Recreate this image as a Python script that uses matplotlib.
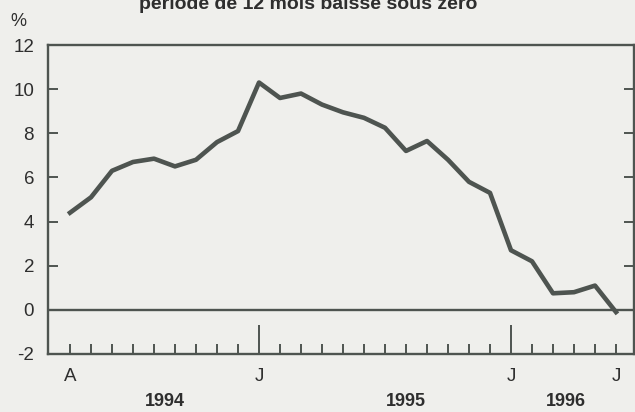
import numpy as np
import matplotlib.pyplot as plt

# données : glissement sur 12 mois, avril 1994 - juin 1996
month_labels = ["A", "", "", "", "", "", "", "", "",
                "J", "", "", "", "", "", "", "", "", "", "", "",
                "J", "", "", "", "", "J"]
values = [4.4, 5.1, 6.3, 6.7, 6.85, 6.5, 6.8, 7.6, 8.1,
          10.3, 9.6, 9.8, 9.3, 8.95, 8.7, 8.25, 7.2, 7.65, 6.8, 5.8, 5.3,
          2.7, 2.2, 0.75, 0.8, 1.1, -0.1]
january_idx = [9, 21]
years = ["1994", "1995", "1996"]
year_pos = [4.5, 16, 23.6]
yticks = [-2, 0, 2, 4, 6, 8, 10, 12]
title = "période de 12 mois baisse sous zéro"

bg = '#efefec'
ink = '#4e5450'
txt = '#2e2e2e'
plt.rcParams['font.family'] = ['Liberation Sans', 'DejaVu Sans']

fig = plt.figure(figsize=(6.35, 4.12), dpi=100, facecolor=bg)
ax = fig.add_axes([48/635, 58/412, 586/635, 309/412], facecolor=bg)

x = np.arange(len(values))
ax.plot(x, values, color=ink, lw=3.3, solid_joinstyle='round', zorder=3)
ax.axhline(0, color=ink, lw=1.7, zorder=2)

ax.set_xlim(-22/21, 26 + 18/21)
ax.set_ylim(-2, 12)
ax.set_yticks(yticks)
ax.set_yticklabels([str(v) for v in yticks])
ax.tick_params(axis='y', direction='in', length=7, width=1.4, color=ink,
               left=True, right=True, labelsize=13.5, pad=10, labelcolor=txt)

ax.set_xticks(x)
ax.set_xticklabels(month_labels)
ax.tick_params(axis='x', direction='in', length=7, width=1.4, color=ink,
               labelsize=13.5, pad=10, labelcolor=txt)
for i, t in enumerate(ax.xaxis.get_major_ticks()):
    if i in january_idx:
        t.tick1line.set_markersize(21)

for s in ax.spines.values():
    s.set_color(ink)
    s.set_linewidth(1.7)

for yr, p in zip(years, year_pos):
    ax.text(p, -0.155, yr, transform=ax.get_xaxis_transform(), ha='center',
            va='center', fontsize=13, fontweight='bold', color=txt)

fig.text(18/635, 1 - 22/412, "%", ha='center', va='center', fontsize=13,
         color=txt)
fig.text(308/635, 1 - 9/412, title, ha='center', va='baseline', fontsize=14,
         fontweight='bold', color=txt)

fig.savefig("out.png", dpi=100, facecolor=bg)
